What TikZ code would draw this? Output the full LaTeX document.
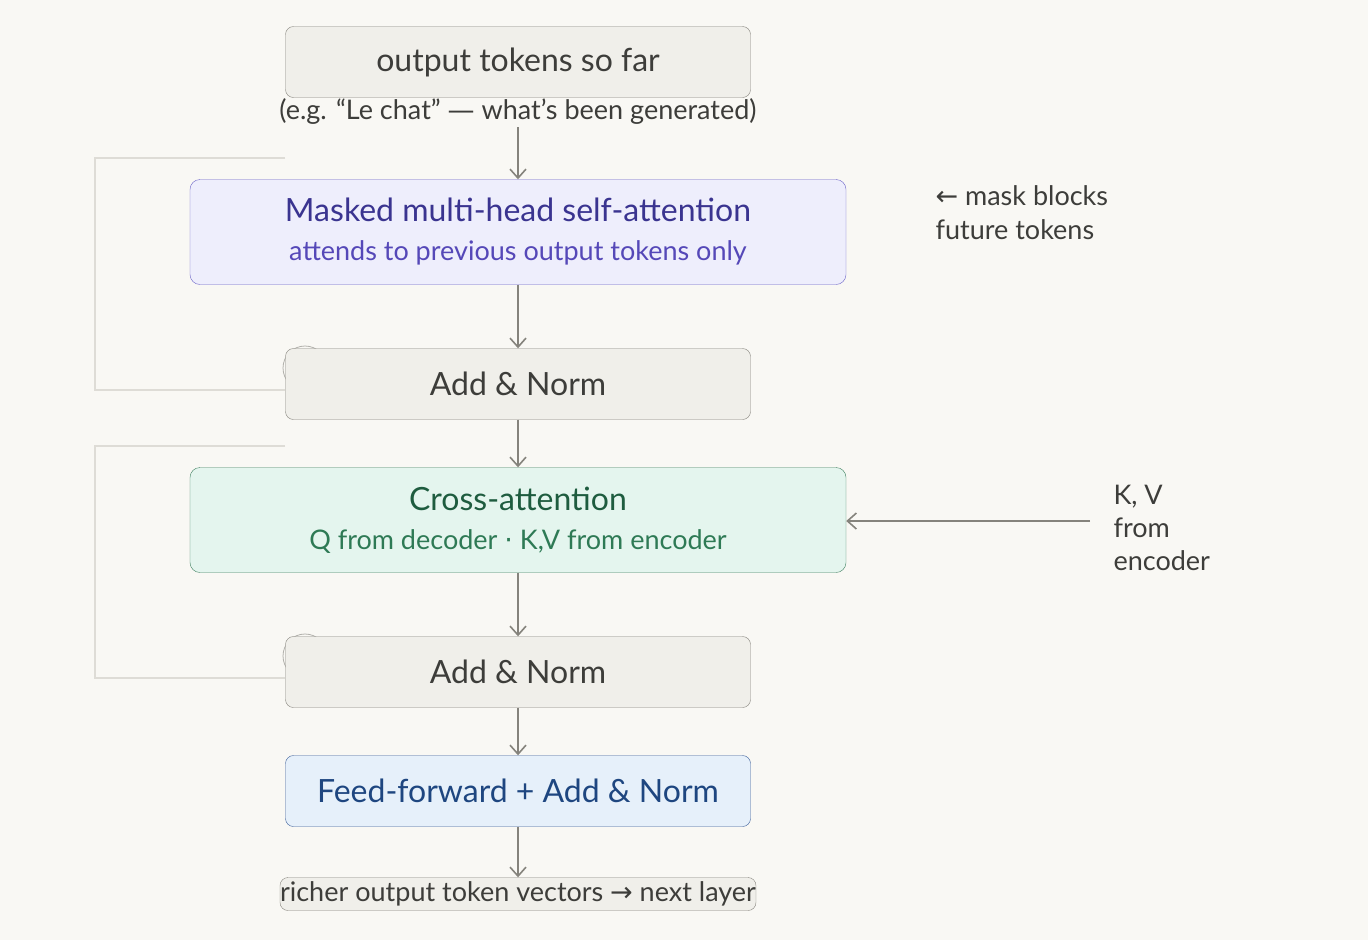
\documentclass[tikz,border=0pt]{standalone}
\usepackage{fontspec}
\setmainfont{Lato}
\newfontfamily\symfont{DejaVu Sans}
\usetikzlibrary{arrows.meta, positioning}
\definecolor{bgcol}{HTML}{F9F8F4}
\definecolor{greyfill}{HTML}{F0EFEA}
\definecolor{greydraw}{HTML}{85837C}
\definecolor{inkcol}{HTML}{3D3D3A}
\definecolor{purpfill}{HTML}{EEEEFC}
\definecolor{purpdraw}{HTML}{6B63C8}
\definecolor{purptext}{HTML}{3A3490}
\definecolor{purpsub}{HTML}{5548B8}
\definecolor{greenfill}{HTML}{E4F5EE}
\definecolor{greendraw}{HTML}{3F8060}
\definecolor{greentext}{HTML}{1E5C3F}
\definecolor{greensub}{HTML}{2E7A55}
\definecolor{bluefill}{HTML}{E6F0FA}
\definecolor{bluedraw}{HTML}{3A5E99}
\definecolor{bluetext}{HTML}{1E4680}
\definecolor{resid}{HTML}{DEDCD6}
\tikzset{
  greybox/.style={rectangle, rounded corners=8pt, minimum width=465pt, minimum height=71pt, draw=greydraw, fill=greyfill, text=inkcol, font=\fontsize{32}{36}\selectfont},
  widebox/.style={rectangle, rounded corners=10pt, minimum width=656pt, minimum height=105pt, align=center, font=\fontsize{32}{39}\selectfont},
  arrow/.style={draw=greydraw, line width=1.6pt, -{Straight Barb[length=9pt, width=16pt]}},
  residual/.style={draw=resid, line width=1.2pt},
  note/.style={text=inkcol, align=left, anchor=north west, font=\fontsize{27}{34}\selectfont}
}
\begin{document}
\begin{tikzpicture}[x=1pt, y=-1pt]
\fill[bgcol] (0,0) rectangle (1368,940);
\useasboundingbox (0,0) rectangle (1368,940);

% Residual connections
\draw[residual] (285,158) -- (95,158) -- (95,390) -- (285,390);
\draw[residual] (285,446) -- (95,446) -- (95,678) -- (285,678);
\draw[resid!80!black, line width=0.8pt] (305,368) circle (22);
\draw[resid!80!black, line width=0.8pt] (305,656) circle (22);

% Main column
\node (tokens) [greybox] at (518,62) {output tokens so far};
\node (caption) [text=inkcol, font=\fontsize{27}{30}\selectfont] at (518,111) {(e.g. ``Le chat'' {\symfont —} what's been generated)};
\node (masked) [widebox, draw=purpdraw, fill=purpfill] at (518,232)
  {{\color{purptext}Masked multi-head self-attention}\\
   {\color{purpsub}\fontsize{27}{30}\selectfont attends to previous output tokens only}};
\node (addA) [greybox] at (518,384) {Add \& Norm};
\node (cross) [widebox, draw=greendraw, fill=greenfill] at (518,520)
  {{\color{greentext}Cross-attention}\\
   {\color{greensub}\fontsize{27}{30}\selectfont Q from decoder {\symfont·} K,V from encoder}};
\node (addB) [greybox] at (518,672) {Add \& Norm};
\node (ffn) [greybox, draw=bluedraw, fill=bluefill, text=bluetext] at (518,791) {Feed-forward + Add \& Norm};
\node (result) [greybox, minimum height=33pt, inner sep=0pt, font=\fontsize{27}{30}\selectfont] at (518,894) {richer output token vectors {\symfont→} next layer};

% Side notes
\node (masknote) [note] at (932,182) {{\symfont←} mask blocks\\future tokens};
\node (kvnote) [note, font=\fontsize{27}{33}\selectfont] at (1110,482) {K, V\\from\\encoder};
\coordinate (kvsrc) at (1090,521);

% Arrows
\draw[arrow] (caption) -- (masked);
\draw[arrow] (masked) -- (addA);
\draw[arrow] (addA) -- (cross);
\draw[arrow] (cross) -- (addB);
\draw[arrow] (addB) -- (ffn);
\draw[arrow] (ffn) -- (result);
\draw[arrow] (kvsrc) -- (cross.east |- kvsrc);
\end{tikzpicture}
\end{document}
